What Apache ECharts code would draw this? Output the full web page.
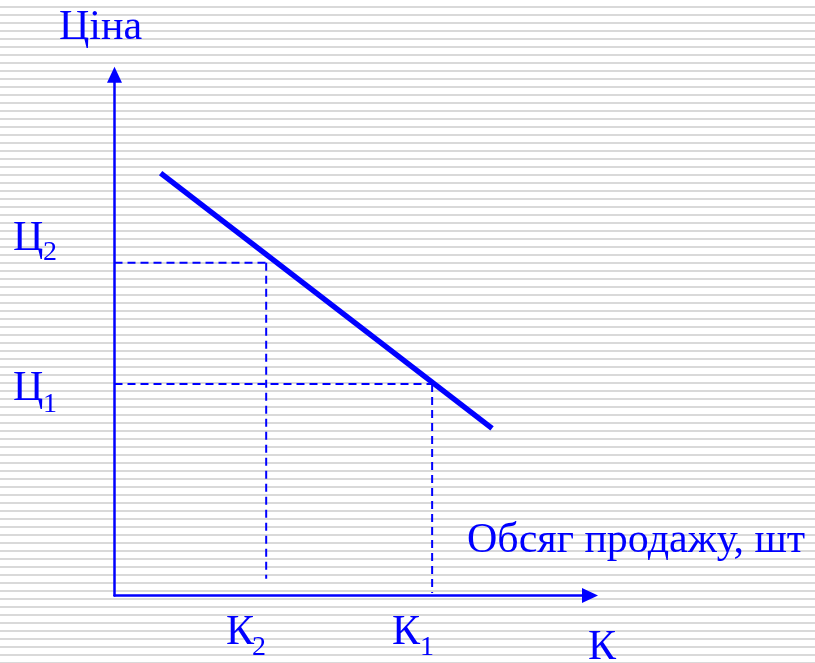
<!DOCTYPE html>
<html>
<head>
<meta charset="utf-8">
<script src="https://cdn.jsdelivr.net/npm/echarts@6/dist/echarts.min.js"></script>
<style>
  html, body { margin: 0; padding: 0; }
  body {
    width: 815px; height: 663px;
    background: repeating-linear-gradient(to bottom, #ffffff 0px, #ffffff 6px, #d9d9d9 6px, #d9d9d9 8px);
  }
  #chart { width: 815px; height: 663px; }
</style>
</head>
<body>
<div id="chart"></div>
<script>
// demand line (quantity, price), axes run 0..100
const demandQty = [9.7, 79.4]
const demandPrice = [81.1, 32.1]
// reference points: К2/Ц2 and К1/Ц1
const pointQty = [31.9, 66.8]
const pointPrice = [63.9, 40.6]
// where the dropped dashes stop above the quantity axis
const dropEnd = [3.2, 0.5]
const priceLabels = ['2', '1']
const qtyLabels = ['2', '1']

const BLUE = '#0000ff'
const FONT = '"Liberation Serif", "Times New Roman", serif'

function dashed(name, data) {
  return {
    name: name,
    type: 'line',
    data: data,
    symbol: 'none',
    silent: true,
    lineStyle: { color: BLUE, width: 2, type: [8, 5] }
  }
}

let series = [{
  name: 'demand',
  type: 'line',
  data: demandQty.map((q, i) => [q, demandPrice[i]]),
  symbol: 'none',
  silent: true,
  lineStyle: { color: BLUE, width: 5.5, cap: 'butt' },
  z: 5
}]
pointQty.forEach((q, i) => {
  series.push(dashed('h' + i, [[0, pointPrice[i]], [q, pointPrice[i]]]))
  series.push(dashed('v' + i, [[q, pointPrice[i]], [q, dropEnd[i]]]))
})

function txt(text, x, y, size) {
  return {
    type: 'text', x: x, y: y, silent: true,
    style: { text: text, fill: BLUE, font: size + 'px ' + FONT, align: 'left', verticalAlign: 'middle' }
  }
}

let graphics = [
  txt('Ціна', 59, 28, 42),
  txt('Ц', 13, 239, 42), txt(priceLabels[0], 43, 253, 28),
  txt('Ц', 13, 389, 42), txt(priceLabels[1], 43, 405, 28),
  txt('К', 226, 633, 42), txt(qtyLabels[0], 252, 648, 28),
  txt('К', 392, 633, 42), txt(qtyLabels[1], 420, 648, 28),
  txt('К', 588, 648, 42),
  txt('Обсяг продажу, шт', 467, 541, 42)
]

const axisLine = {
  show: true,
  symbol: ['none', 'triangle'],
  symbolSize: [15, 16],
  lineStyle: { color: BLUE, width: 2.5 }
}

let option = {
  animation: false,
  grid: { left: 114.5, top: 74.7, width: 475.5, height: 520.8, containLabel: false },
  xAxis: {
    type: 'value', min: 0, max: 100,
    axisLine: axisLine,
    axisTick: { show: false }, axisLabel: { show: false }, splitLine: { show: false }
  },
  yAxis: {
    type: 'value', min: 0, max: 100,
    axisLine: axisLine,
    axisTick: { show: false }, axisLabel: { show: false }, splitLine: { show: false }
  },
  series: series,
  graphic: graphics
}

var myChart = echarts.init(document.getElementById('chart'))
myChart.setOption(option)
</script>
</body>
</html>
